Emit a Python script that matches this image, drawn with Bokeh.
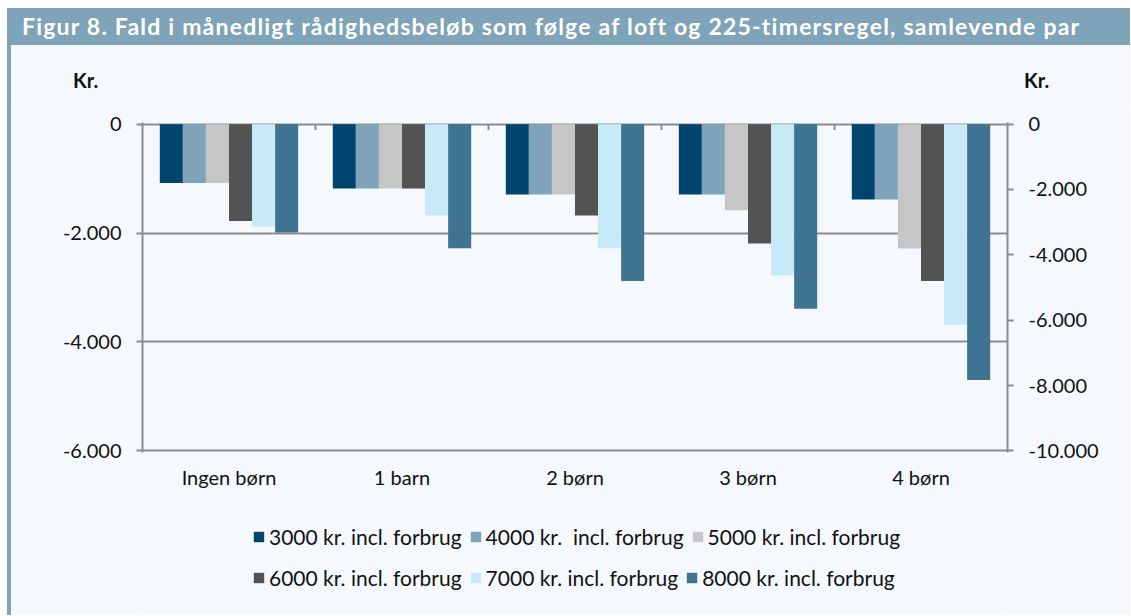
from bokeh.plotting import figure
from bokeh.models import (ColumnDataSource, FactorRange, Range1d, LinearAxis, FixedTicker,
                          Legend, LegendItem, Div)
from bokeh.transform import dodge
from bokeh.layouts import column, row
from bokeh.embed import file_html
from bokeh.resources import INLINE

# ---------------- data ----------------
title_text = "Figur 8. Fald i månedligt rådighedsbeløb som følge af loft og 225-timersregel, samlevende par"
categories = ["Ingen børn", "1 barn", "2 børn", "3 børn", "4 børn"]
series_names = ["3000 kr. incl. forbrug", "4000 kr.  incl. forbrug", "5000 kr. incl. forbrug",
                "6000 kr. incl. forbrug", "7000 kr. incl. forbrug", "8000 kr. incl. forbrug"]
v3000 = [-1080, -1180, -1290, -1290, -1385]
v4000 = [-1080, -1180, -1290, -1290, -1385]
v5000 = [-1080, -1180, -1290, -1580, -2285]
v6000 = [-1780, -1180, -1680, -2190, -2880]
v7000 = [-1880, -1680, -2280, -2780, -3690]
v8000 = [-1990, -2280, -2880, -3390, -4700]
series_values = [v3000, v4000, v5000, v6000, v7000, v8000]
colors = ["#00456e", "#7fa3b9", "#c6c6c6", "#535353", "#c8e9f8", "#3e7392"]

left_ticks = [0, -2000, -4000, -6000]
left_tick_labels = ["0", "-2.000", "-4.000", "-6.000"]
right_ticks = [0, -2000, -4000, -6000, -8000, -10000]
right_tick_labels = ["0", "-2.000", "-4.000", "-6.000", "-8.000", "-10.000"]
unit_label = "Kr."

# ---------------- style ----------------
BG = "#f5f9fd"
BARC = "#7fa3b9"
GRID = "#8c8c8c"
FONT = "Lato"
FS = "20px"
TXT = "#111111"
W = 1119
H_TOP, H_MAIN, H_LEG = 60, 395, 115
FRAME_W = W - 131 - 123

data = {"cat": categories}
for i, vals in enumerate(series_values):
    data["s%d" % i] = vals
src = ColumnDataSource(data)
sep_src = ColumnDataSource({"cat": categories[:-1]})

# ---------------- main chart ----------------
p = figure(width=W, height=H_MAIN, x_range=FactorRange(*categories),
           y_range=Range1d(-6030, 30), output_backend="svg", toolbar_location=None,
           min_border_left=131, min_border_right=123, min_border_top=17, min_border_bottom=48)
p.extra_y_ranges = {"right": Range1d(-10050, 50)}
p.background_fill_color = BG
p.border_fill_color = BG
p.outline_line_color = None

n = len(series_values)
group_frac = 0.8
bw = group_frac / n
for j in range(n):
    off = -group_frac / 2 + (j + 0.5) * bw
    p.vbar(x=dodge("cat", off, range=p.x_range), top="s%d" % j, bottom=0, width=bw,
           source=src, fill_color=colors[j], line_color=None)

# group separator ticks on the zero line
sx = dodge("cat", 0.5, range=p.x_range)
p.segment(x0=sx, y0=0, x1=sx, y1=-110, source=sep_src, line_color=GRID, line_width=2)

xa = p.xaxis[0]
xa.axis_line_color = None
xa.major_tick_line_color = None
xa.minor_tick_line_color = None
xa.major_label_standoff = 6
xa.major_label_text_font = FONT
xa.major_label_text_font_size = FS
xa.major_label_text_color = TXT

ya = p.yaxis[0]
ya.ticker = FixedTicker(ticks=left_ticks)
ya.major_label_overrides = dict(zip(left_ticks, left_tick_labels))
ra = LinearAxis(y_range_name="right", ticker=FixedTicker(ticks=right_ticks))
ra.major_label_overrides = dict(zip(right_ticks, right_tick_labels))
p.add_layout(ra, "right")
for ax in (ya, ra):
    ax.axis_line_color = GRID
    ax.axis_line_width = 2
    ax.major_tick_line_color = GRID
    ax.major_tick_line_width = 2
    ax.major_tick_out = 6
    ax.major_tick_in = 0
    ax.minor_tick_line_color = None
    ax.major_label_standoff = 15
    ax.major_label_text_font = FONT
    ax.major_label_text_font_size = FS
    ax.major_label_text_color = TXT

p.xgrid.grid_line_color = None
p.ygrid.ticker = FixedTicker(ticks=left_ticks)
p.ygrid.grid_line_color = GRID
p.ygrid.grid_line_width = 2

# ---------------- strip with unit labels ----------------
span_style = ("position:absolute;top:23px;font-family:Lato;font-weight:bold;"
              "font-size:20px;line-height:24px;color:%s;" % TXT)
kr_html = ('<div style="position:relative;width:%dpx;height:%dpx;">' % (W, H_TOP)
           + '<span style="%sleft:62px;">%s</span>' % (span_style, unit_label)
           + '<span style="%sleft:1013px;">%s</span>' % (span_style, unit_label)
           + '</div>')
top = Div(text=kr_html, width=W, height=H_TOP, margin=0,
          styles={"background-color": BG})

# ---------------- legend strip ----------------
lg = figure(width=W, height=H_LEG, x_range=Range1d(0, FRAME_W), y_range=Range1d(0, H_LEG),
            x_axis_type=None, y_axis_type=None, output_backend="svg", toolbar_location=None,
            min_border_left=131, min_border_right=123, min_border_top=0, min_border_bottom=0)
lg.background_fill_color = BG
lg.border_fill_color = BG
lg.outline_line_color = None
# zero-size swatch renderers (only their colours are shown, in the legend)
swatches = [lg.vbar(x=[0], top=[0], bottom=0, width=0, fill_color=c, line_color=None)
            for c in colors]
for rowi, (lx, ly) in enumerate([(110, 66), (110, 25)]):
    items = [LegendItem(label=series_names[j], renderers=[swatches[j]])
             for j in range(rowi * 3, rowi * 3 + 3)]
    leg = Legend(items=items, orientation="horizontal", location=(lx, ly),
                 label_text_font=FONT, label_text_font_size="21px", label_text_color=TXT,
                 glyph_width=13, glyph_height=13, label_standoff=4, spacing=7,
                 padding=0, margin=0, border_line_color=None, background_fill_alpha=0)
    lg.add_layout(leg, "center")

# ---------------- page ----------------
title_div = Div(text=title_text, width=1123, height=37, margin=0,
                styles={"background-color": BARC, "color": "white", "font-family": FONT,
                        "font-weight": "bold", "font-size": "23px", "letter-spacing": "1.2px",
                        "line-height": "37px", "padding-left": "15px", "white-space": "nowrap",
                        "overflow": "hidden", "box-sizing": "border-box"})
strip = Div(text="", width=4, height=H_TOP + H_MAIN + H_LEG, margin=0,
            styles={"background-color": BARC})

layout = column(title_div,
                row(strip, column(top, p, lg, spacing=0), spacing=0),
                spacing=0, margin=(8, 0, 0, 7))

open("out.html", "w").write(file_html(layout, INLINE))
